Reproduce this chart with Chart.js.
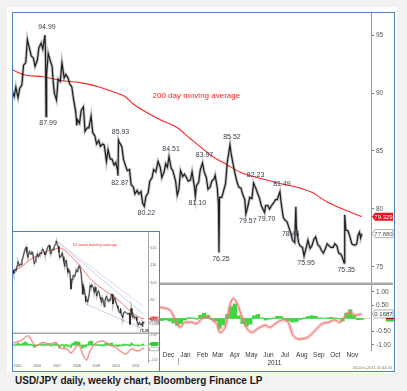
<!DOCTYPE html>
<html>
<head>
<meta charset="utf-8">
<script src="https://cdn.jsdelivr.net/npm/chart.js@4.4.1/dist/chart.umd.min.js"></script>
<style>
  html,body{margin:0;padding:0;}
  body{width:407px;height:391px;background:#f2f2f2;position:relative;overflow:hidden;font-family:"Liberation Sans",Arial,sans-serif;}
  #panel{position:absolute;left:7px;top:7px;width:390px;height:366px;background:#fff;}
  #frame{position:absolute;left:12px;top:12px;width:383px;height:360px;box-sizing:border-box;border:1px solid #4f81bd;}
  #main{position:absolute;left:13px;top:13px;}
  #insetFrame{position:absolute;left:12px;top:231px;width:148px;height:141px;box-sizing:border-box;border:1px solid #4f81bd;background:#fff;}
  #inset{position:absolute;left:13px;top:232px;}
  #caption{position:absolute;left:15px;top:375px;font:bold 10px "Liberation Sans",Arial,sans-serif;color:#1a1a1a;line-height:12px;white-space:nowrap;}
</style>
</head>
<body>
<div id="panel"></div>
<div id="frame"></div>
<canvas id="main" width="381" height="358"></canvas>
<div id="insetFrame"></div>
<canvas id="inset" width="146" height="138"></canvas>
<div id="caption">USD/JPY daily, weekly chart, Bloomberg Finance LP</div>
<script>
// ---------------- DAILY CHART DATA ----------------
const priceDates = [
'2010-03-05','2010-03-09','2010-03-12','2010-03-16','2010-03-19','2010-03-23','2010-03-26','2010-03-30','2010-04-02','2010-04-06',
'2010-04-09','2010-04-13','2010-04-16','2010-04-20','2010-04-23','2010-04-27','2010-04-30','2010-05-04','2010-05-05','2010-05-06',
'2010-05-07','2010-05-10','2010-05-13','2010-05-17','2010-05-19','2010-05-21','2010-05-25','2010-05-28','2010-06-01','2010-06-04',
'2010-06-08','2010-06-11','2010-06-15','2010-06-18','2010-06-22','2010-06-25','2010-06-29','2010-07-01','2010-07-02','2010-07-06',
'2010-07-09','2010-07-13','2010-07-16','2010-07-20','2010-07-23','2010-07-27','2010-07-30','2010-08-03','2010-08-06','2010-08-10',
'2010-08-13','2010-08-17','2010-08-20','2010-08-24','2010-08-27','2010-08-31','2010-09-03','2010-09-07','2010-09-10','2010-09-13',
'2010-09-14','2010-09-15','2010-09-17','2010-09-21','2010-09-24','2010-09-28','2010-10-01','2010-10-05','2010-10-08','2010-10-12',
'2010-10-15','2010-10-19','2010-10-22','2010-10-26','2010-10-29','2010-11-01','2010-11-04','2010-11-08','2010-11-11','2010-11-15',
'2010-11-18','2010-11-22','2010-11-26','2010-11-30','2010-12-03','2010-12-07','2010-12-10','2010-12-13','2010-12-16','2010-12-20',
'2010-12-23','2010-12-28','2010-12-31','2011-01-03','2011-01-06','2011-01-10','2011-01-13','2011-01-17','2011-01-20','2011-01-24',
'2011-01-27','2011-01-31','2011-02-02','2011-02-04','2011-02-08','2011-02-11','2011-02-15','2011-02-18','2011-02-22','2011-02-25',
'2011-03-01','2011-03-04','2011-03-08','2011-03-10','2011-03-14','2011-03-16','2011-03-17','2011-03-18','2011-03-22','2011-03-25',
'2011-03-29','2011-04-01','2011-04-06','2011-04-08','2011-04-12','2011-04-15','2011-04-19','2011-04-22','2011-04-26','2011-04-29',
'2011-05-03','2011-05-05','2011-05-09','2011-05-12','2011-05-16','2011-05-19','2011-05-23','2011-05-26','2011-05-30','2011-06-02',
'2011-06-08','2011-06-10','2011-06-14','2011-06-17','2011-06-21','2011-06-24','2011-06-28','2011-07-01','2011-07-06','2011-07-08',
'2011-07-12','2011-07-14','2011-07-19','2011-07-22','2011-07-26','2011-07-29','2011-08-02','2011-08-04','2011-08-05','2011-08-09',
'2011-08-12','2011-08-16','2011-08-19','2011-08-23','2011-08-26','2011-08-30','2011-09-02','2011-09-06','2011-09-09','2011-09-13',
'2011-09-16','2011-09-20','2011-09-23','2011-09-27','2011-09-30','2011-10-04','2011-10-07','2011-10-11','2011-10-14','2011-10-18',
'2011-10-21','2011-10-25','2011-10-28','2011-10-31','2011-11-01','2011-11-03','2011-11-07','2011-11-10','2011-11-14','2011-11-17',
'2011-11-21','2011-11-23','2011-11-25','2011-11-28','2011-11-30','2011-12-02'];
const priceValues = [
90.2,89.7,90.5,89.6,90.4,90.7,92.4,92.6,94.6,93.8,
93.2,93.0,92.3,92.8,93.9,94.3,93.8,94.99,93.5,87.99,
91.6,93.4,92.9,92.3,91.0,90.0,89.4,91.2,91.0,92.6,
91.3,91.6,91.3,90.8,90.5,89.5,88.4,87.2,87.7,87.4,
88.5,88.8,86.7,87.0,87.0,88.0,86.6,86.3,85.6,85.9,
85.4,85.6,85.5,84.1,85.1,84.3,84.3,83.8,84.0,83.4,
82.87,85.93,85.7,85.4,84.3,83.7,83.3,83.4,82.1,81.9,
81.3,81.6,81.3,81.5,80.5,80.22,81.1,81.4,82.4,82.7,
83.4,83.2,84.1,83.6,82.7,83.2,83.9,83.6,84.51,83.5,
83.3,82.4,81.2,81.7,83.3,82.8,83.0,82.7,82.4,82.5,
83.2,82.0,81.10,82.0,82.3,83.4,83.97,83.2,82.7,81.7,
81.9,82.4,82.6,82.9,81.8,80.4,76.25,81.0,81.0,81.5,
82.2,84.0,85.52,84.8,83.8,83.1,82.3,81.9,81.8,81.3,
80.8,79.57,80.3,81.0,80.9,82.23,81.8,81.4,80.9,80.3,
79.70,80.3,80.3,80.0,80.3,80.5,80.8,80.8,81.49,80.6,
79.3,79.1,78.9,78.46,77.9,77.3,77.1,80.2,78.4,77.1,
76.8,76.7,75.95,76.7,77.3,76.6,76.8,77.4,77.6,76.9,
76.8,76.4,76.2,76.6,77.0,76.8,76.7,76.7,77.0,76.8,
76.2,76.1,75.8,75.35,79.5,78.2,78.1,77.7,77.0,76.9,
76.9,77.0,77.7,78.0,77.5,77.88];

const maDates = ['2010-03-05','2010-03-29','2010-04-30','2010-05-31','2010-07-12','2010-08-12','2010-09-05','2010-09-27','2010-10-11','2010-11-06','2010-11-30','2010-12-31','2011-01-23','2011-02-10','2011-03-06','2011-04-01','2011-04-24','2011-05-18','2011-06-12','2011-07-06','2011-08-12','2011-09-04','2011-09-30','2011-10-23','2011-12-02'];
const maValues = [92.0,91.55,91.4,91.1,90.85,90.5,90.1,89.7,89.1,88.3,87.7,87.0,86.1,85.4,84.5,83.8,83.2,82.8,82.5,82.2,81.8,81.4,80.6,80.1,79.329];

const oscDates = ['2010-11-15','2010-11-30','2010-12-18','2010-12-30','2011-01-05','2011-01-14','2011-01-27','2011-02-05','2011-02-14','2011-02-25','2011-03-06','2011-03-13','2011-03-19','2011-03-28','2011-04-06','2011-04-12','2011-04-19','2011-04-28','2011-05-07','2011-05-16','2011-05-27','2011-06-09','2011-06-18','2011-07-01','2011-07-12','2011-07-21','2011-07-30','2011-08-08','2011-08-17','2011-08-26','2011-09-08','2011-09-21','2011-10-02','2011-10-14','2011-10-23','2011-11-05','2011-11-11','2011-11-20','2011-12-02'];
const oscValues = [0.45,0.42,0.31,-0.19,-0.34,-0.15,-0.15,-0.2,0.0,0.05,-0.08,-0.2,-0.54,-0.34,0.5,0.76,0.57,0.05,-0.38,-0.53,-0.38,-0.26,-0.34,-0.15,-0.05,-0.15,-0.65,-0.78,-0.77,-0.72,-0.46,-0.2,-0.15,-0.05,-0.15,0.18,0.24,0.12,0.1687];

const histDates = ['2010-11-19','2010-11-26','2010-12-03','2010-12-10','2010-12-17','2010-12-24','2010-12-31','2011-01-07','2011-01-14','2011-01-21','2011-01-28','2011-02-04','2011-02-11','2011-02-18','2011-02-25','2011-03-04','2011-03-11','2011-03-18','2011-03-25','2011-04-01','2011-04-08','2011-04-15','2011-04-22','2011-04-29','2011-05-06','2011-05-13','2011-05-20','2011-05-27','2011-06-03','2011-06-10','2011-06-17','2011-06-24','2011-07-01','2011-07-08','2011-07-15','2011-07-22','2011-07-29','2011-08-05','2011-08-12','2011-08-19','2011-08-26','2011-09-02','2011-09-09','2011-09-16','2011-09-23','2011-09-30','2011-10-07','2011-10-14','2011-10-21','2011-10-28','2011-11-04','2011-11-11','2011-11-18','2011-11-25','2011-12-02'];
const histValues = [-0.02,-0.05,-0.08,-0.06,-0.1,-0.18,-0.27,-0.2,-0.06,0.03,0.02,-0.03,0.12,0.2,0.12,-0.04,-0.1,-0.38,-0.25,0.15,0.45,0.55,0.1,-0.2,-0.3,-0.22,0.1,0.15,0.02,-0.06,-0.03,0.02,0.08,0.07,-0.05,-0.1,-0.14,-0.12,-0.04,0.02,0.07,0.1,0.08,0.02,0.01,0.02,0.04,0.02,-0.02,-0.1,0.2,0.33,0.12,-0.05,-0.04];

const annoDates = ['2010-05-04','2010-05-06','2010-09-15','2010-09-14','2010-11-01','2010-12-16','2011-02-02','2011-02-15','2011-03-17','2011-04-06','2011-05-05','2011-05-19','2011-06-08','2011-07-06','2011-07-22','2011-08-19','2011-10-31'];
const annoSide  = ['above','below','above','below','below','above','below','above','below','above','below','above','below','above','below','below','below'];

const monthTickDates  = ['2010-12-15','2011-01-15','2011-02-15','2011-03-15','2011-04-15','2011-05-15','2011-06-15','2011-07-15','2011-08-15','2011-09-15','2011-10-15','2011-11-15'];
const monthTickLabels = ['Dec','Jan','Feb','Mar','Apr','May','Jun','Jul','Aug','Sep','Oct','Nov'];
const yearLabel = '2011';
const yearStart = '2011-01-01';
const priceTicks = [75,80,85,90,95];
const oscTicks = [-1,-0.5,0.5,1];
const maLabel = '200 day moving average';
const maLabelAnchor = ['2010-11-16', 89.75];
const stampText = '03-Dec-2011 11:44:20';

// ---------------- WEEKLY INSET DATA ----------------
const wkDates = [
'2005-04-08','2005-04-22','2005-05-06','2005-05-20','2005-06-08','2005-06-22','2005-07-08','2005-07-22','2005-08-08','2005-08-22','2005-09-08','2005-09-22','2005-10-07','2005-10-21','2005-11-08','2005-11-22','2005-12-08','2005-12-22',
'2006-01-09','2006-01-23','2006-02-08','2006-02-22','2006-03-08','2006-03-22','2006-04-07','2006-04-21','2006-05-08','2006-05-22','2006-06-08','2006-06-22','2006-07-07','2006-07-21','2006-08-08','2006-08-22','2006-09-08','2006-09-22','2006-10-09','2006-10-23','2006-11-08','2006-11-22','2006-12-08','2006-12-22',
'2007-01-08','2007-01-22','2007-02-08','2007-02-22','2007-03-08','2007-03-22','2007-04-09','2007-04-23','2007-05-08','2007-05-22','2007-06-08','2007-06-22','2007-07-09','2007-07-23','2007-08-08','2007-08-22','2007-09-07','2007-09-21','2007-10-08','2007-10-22','2007-11-08','2007-11-22','2007-12-07','2007-12-21',
'2008-01-08','2008-01-22','2008-02-08','2008-02-22','2008-03-07','2008-03-17','2008-04-08','2008-04-22','2008-05-08','2008-05-22','2008-06-09','2008-06-23','2008-07-08','2008-07-22','2008-08-08','2008-08-22','2008-09-08','2008-09-22','2008-10-08','2008-10-24','2008-11-07','2008-11-21','2008-12-08','2008-12-17',
'2009-01-08','2009-01-21','2009-02-09','2009-02-23','2009-03-09','2009-03-23','2009-04-08','2009-04-22','2009-05-08','2009-05-22','2009-06-08','2009-06-22','2009-07-08','2009-07-22','2009-08-07','2009-08-21','2009-09-08','2009-09-22','2009-10-08','2009-10-22','2009-11-09','2009-11-27','2009-12-08','2009-12-22',
'2010-01-08','2010-01-22','2010-02-08','2010-02-22','2010-03-08','2010-03-22','2010-04-08','2010-04-22','2010-05-06','2010-05-21','2010-06-08','2010-06-22','2010-07-08','2010-07-22','2010-08-06','2010-08-24','2010-09-14','2010-09-22','2010-10-08','2010-10-22','2010-11-01','2010-11-22','2010-12-08','2010-12-22',
'2011-01-07','2011-01-21','2011-02-08','2011-02-22','2011-03-08','2011-03-17','2011-04-06','2011-04-22','2011-05-06','2011-05-20','2011-06-08','2011-06-22','2011-07-08','2011-07-22','2011-08-08','2011-08-19','2011-09-08','2011-09-22','2011-10-07','2011-10-21','2011-10-31','2011-11-08','2011-11-22','2011-12-02'];
const wkValues = [
107.5,105.5,105.8,107.8,107.2,109.8,112.2,111.0,109.8,110.8,110.5,112.8,114.2,116.0,118.2,119.5,120.5,117.5,
114.5,117.0,118.0,116.5,116.5,117.8,117.5,114.5,111.0,112.2,114.5,115.5,116.8,114.8,115.5,117.2,116.8,118.0,119.5,118.8,117.5,116.0,116.5,118.5,
120.0,121.2,121.5,119.0,116.5,117.8,119.2,119.0,120.5,121.5,122.5,124.0,121.8,121.0,117.5,114.5,115.5,115.2,117.2,115.0,112.0,109.5,112.5,113.0,
108.5,106.0,107.5,107.0,102.5,96.5,102.0,104.0,104.5,103.5,105.0,107.5,106.5,107.5,109.5,109.8,107.8,105.5,99.5,93.5,98.0,96.0,92.5,89.5,
90.5,89.0,91.8,94.5,98.5,97.5,99.0,98.0,97.5,94.5,97.5,95.5,92.5,94.5,95.5,94.5,92.0,90.5,88.8,91.5,89.5,86.5,89.5,91.5,
92.5,90.5,89.5,90.5,90.0,90.5,93.5,93.5,88.0,90.0,91.5,90.0,88.0,87.0,85.5,84.0,82.9,85.5,82.1,81.3,80.3,83.2,83.5,83.3,
83.0,82.5,82.3,82.7,82.6,76.3,85.5,81.9,80.5,81.7,79.8,80.3,80.6,78.5,77.1,76.0,77.5,76.3,76.7,76.2,75.35,77.8,77.0,77.88];

const wkMaDates = ['2005-04-08','2005-09-01','2006-02-06','2006-10-20','2007-04-01','2007-08-25','2008-02-24','2008-08-25','2009-02-24','2009-08-25','2010-02-24','2010-08-25','2011-02-24','2011-10-01','2011-12-02'];
const wkMaValues = [107.0,109.0,113.0,117.3,119.0,120.0,116.0,110.0,103.0,98.0,94.0,90.0,84.6,80.0,79.6];

const trendUpperADates = ['2007-06-22','2011-11-25'];
const trendUpperAValues = [124.0,82.0];
const trendUpperBDates = ['2007-06-22','2011-11-25'];
const trendUpperBValues = [124.0,86.5];
const trendLowerDates = ['2008-12-17','2011-11-01'];
const trendLowerValues = [88.0,74.0];

const wkOscDates = ['2005-04-08','2005-09-01','2006-01-15','2006-06-01','2006-10-01','2007-02-15','2007-06-15','2007-09-01','2008-01-01','2008-03-20','2008-08-01','2008-10-20','2009-01-01','2009-03-01','2009-06-01','2009-11-01','2010-03-01','2010-06-15','2010-09-15','2011-01-01','2011-04-15','2011-08-01','2011-12-02'];
const wkOscValues = [0.2,0.45,0.9,-0.1,0.25,0.1,0.25,-0.3,-0.4,-0.8,0.0,-0.9,-1.5,-0.7,0.1,0.4,0.0,-0.2,-0.6,-0.9,-0.4,-0.6,-0.3];

const wkHistMonths = [
'2005-04','2005-05','2005-06','2005-07','2005-08','2005-09','2005-10','2005-11','2005-12',
'2006-01','2006-02','2006-03','2006-04','2006-05','2006-06','2006-07','2006-08','2006-09','2006-10','2006-11','2006-12',
'2007-01','2007-02','2007-03','2007-04','2007-05','2007-06','2007-07','2007-08','2007-09','2007-10','2007-11','2007-12',
'2008-01','2008-02','2008-03','2008-04','2008-05','2008-06','2008-07','2008-08','2008-09','2008-10','2008-11','2008-12',
'2009-01','2009-02','2009-03','2009-04','2009-05','2009-06','2009-07','2009-08','2009-09','2009-10','2009-11','2009-12',
'2010-01','2010-02','2010-03','2010-04','2010-05','2010-06','2010-07','2010-08','2010-09','2010-10','2010-11','2010-12',
'2011-01','2011-02','2011-03','2011-04','2011-05','2011-06','2011-07','2011-08','2011-09','2011-10','2011-11'];
const wkHistValues = [
0.05,-0.05,0.1,0.2,0.05,0.1,0.2,0.3,0.25,
0.05,0.1,0.05,-0.1,-0.25,-0.05,0.05,0.05,0.1,0.12,-0.05,0.1,
0.15,0.1,-0.1,0.05,0.1,0.15,-0.05,-0.3,-0.1,0.05,-0.25,0.05,
-0.15,0.0,-0.25,0.15,0.25,0.35,0.3,0.3,-0.1,-0.35,-0.2,-0.2,
0.05,0.3,0.4,0.35,0.0,0.1,-0.05,0.05,-0.1,0.05,-0.1,0.15,
0.2,0.1,0.15,0.2,0.0,-0.05,-0.1,-0.15,-0.05,-0.1,0.1,0.05,
0.05,0.05,-0.1,0.2,0.05,0.0,-0.05,-0.1,0.0,-0.05,0.1];

const wkYearTicks = ['2005','2006','2007','2008','2009','2010','2011'];
const wkPriceTicks = [80,90,100,110,120];
const wkOscTicks = [1,0.5,-0.5,-1,-1.5];
const wkMaLabel = '52 week moving average';
const wkMaLabelAnchor = [2008.3, 121.7];
const wkLowDate = '2011-10-31';

// ---------------- HELPERS ----------------
const FONT = '"Liberation Sans", Arial, sans-serif';
Chart.defaults.font.family = FONT;
const ORIGIN = Date.UTC(2010,2,5);
function ymd(s){const p=s.split('-').map(Number);return [p[0],p[1],p[2]||15];}
function day(s){const [y,m,d]=ymd(s);return (Date.UTC(y,m-1,d)-ORIGIN)/864e5;}
function yr(s){const [y,m,d]=ymd(s);return y+(Date.UTC(y,m-1,d)-Date.UTC(y,0,1))/(365.25*864e5);}
function pts(dates, vals, fx){return dates.map((d,i)=>({x:fx(d),y:vals[i]}));}
function noPad(s){s.paddingTop=0;s.paddingBottom=0;s.paddingLeft=0;s.paddingRight=0;}
function flag(ctx,x0,x1,yc,h,fill,stroke,text,color,font){
  ctx.beginPath();
  ctx.moveTo(x0,yc);ctx.lineTo(x0+3,yc-h/2);ctx.lineTo(x1,yc-h/2);ctx.lineTo(x1,yc+h/2);ctx.lineTo(x0+3,yc+h/2);ctx.closePath();
  ctx.fillStyle=fill;ctx.fill();
  if(stroke){ctx.strokeStyle=stroke;ctx.lineWidth=0.8;ctx.stroke();}
  if(text){ctx.fillStyle=color;ctx.font=font;ctx.textAlign='center';ctx.textBaseline='middle';ctx.fillText(text,(x0+2+x1)/2,yc+0.5);}
}

// ---------------- MAIN CHART ----------------
const xMin = 1.82, xMax = 653.9;
const mainDeco = {
  id:'mainDeco',
  beforeDatasetsDraw(chart){
    const {ctx,chartArea:a,scales:{yo}}=chart;
    ctx.save();
    const y0=Math.round(yo.getPixelForValue(0))+0.5;
    ctx.strokeStyle='#b6eeb6';ctx.lineWidth=1;
    ctx.beginPath();ctx.moveTo(a.left,y0);ctx.lineTo(a.right,y0);ctx.stroke();
    ctx.restore();
  },
  afterDatasetsDraw(chart){
    const {ctx,chartArea:a,scales:{x,y,yo}}=chart;
    ctx.save();
    ctx.fillStyle='#a9a9a9';
    ctx.fillRect(0,yo.top-1.5,chart.width-1,2.5);
    ctx.font='7px '+FONT;ctx.fillStyle='#3b3b4b';ctx.textAlign='center';ctx.textBaseline='middle';
    annoDates.forEach((d,i)=>{
      const v=priceValues[priceDates.indexOf(d)];
      const px=x.getPixelForValue(day(d))+2;
      const py=y.getPixelForValue(v)+(annoSide[i]==='above'?-8:7);
      ctx.fillText(v.toFixed(2),px,py);
    });
    ctx.font='8px '+FONT;ctx.fillStyle='#ff2020';ctx.textAlign='left';
    ctx.fillText(maLabel,x.getPixelForValue(day(maLabelAnchor[0])),y.getPixelForValue(maLabelAnchor[1]));
    const f='6px '+FONT;
    const maLast=maValues[maValues.length-1], pLast=priceValues[priceValues.length-1];
    flag(ctx,a.right+1,a.right+22,y.getPixelForValue(maLast),8,'#e3141b',null,maLast.toFixed(3),'#fff',f);
    flag(ctx,a.right+1,a.right+22,y.getPixelForValue(pLast),8,'#fff','#9a9a9a',pLast.toFixed(3),'#555',f);
    const oLast=oscValues[oscValues.length-1], hLast=histValues[histValues.length-1];
    flag(ctx,a.right+1,a.right+22,yo.getPixelForValue(oLast),8,'#fff','#9a9a9a',oLast.toFixed(4),'#333',f);
    ctx.fillStyle='#b00000';ctx.fillRect(a.right+15,yo.getPixelForValue(oLast)+4,8,2);
    ctx.fillStyle='#2fcf2f';ctx.fillRect(a.right+15,yo.getPixelForValue(hLast)-0.5,8,2.5);
    const xs=Math.round(x.getPixelForValue(day(yearStart)))+0.5;
    ctx.strokeStyle='#aaa';ctx.lineWidth=1;ctx.beginPath();ctx.moveTo(xs,a.bottom+8);ctx.lineTo(xs,a.bottom+15);ctx.stroke();
    ctx.font='4px '+FONT;ctx.fillStyle='#777';ctx.textAlign='right';ctx.textBaseline='middle';
    ctx.fillText(stampText,chart.width-2,a.bottom+18);
    ctx.restore();
  }
};

new Chart(document.getElementById('main'),{
  type:'line',
  data:{datasets:[
    {type:'bar',data:pts(histDates,histValues,day),xAxisID:'x',yAxisID:'yo',backgroundColor:'#3fd53f',barThickness:3.6,order:6},
    {data:pts(oscDates,oscValues,day),xAxisID:'x',yAxisID:'yo',borderColor:'rgba(245,150,150,0.45)',borderWidth:3.5,pointRadius:0,tension:0.3,order:5},
    {data:pts(oscDates,oscValues,day),xAxisID:'x',yAxisID:'yo',borderColor:'#f26666',borderWidth:1,pointRadius:0,tension:0.3,order:4},
    {data:pts(maDates,maValues,day),xAxisID:'x',yAxisID:'y',borderColor:'#ff2424',borderWidth:1.1,pointRadius:0,cubicInterpolationMode:'monotone',order:3},
    {data:pts(priceDates,priceValues,day),xAxisID:'x',yAxisID:'y',borderColor:'rgba(80,80,80,0.35)',borderWidth:3,pointRadius:0,tension:0,order:2},
    {data:pts(priceDates,priceValues,day),xAxisID:'x',yAxisID:'y',borderColor:'#1e1e1e',borderWidth:1.2,pointRadius:0,tension:0,order:1}
  ]},
  options:{
    responsive:false,animation:false,devicePixelRatio:1,
    layout:{padding:0},
    plugins:{legend:{display:false},tooltip:{enabled:false}},
    scales:{
      x:{type:'linear',position:'bottom',min:xMin,max:xMax,offset:false,
        grid:{display:false,drawTicks:false},border:{display:false},
        afterBuildTicks:s=>{s.ticks=monthTickDates.map(d=>({value:day(d)}));},
        ticks:{autoSkip:false,maxRotation:0,padding:1,color:'#333',font:{size:6.5},callback:(v,i)=>monthTickLabels[i]},
        afterFit:s=>{s.height=9;noPad(s);}},
      xYear:{type:'linear',position:'bottom',min:xMin,max:xMax,offset:false,
        grid:{display:false,drawTicks:false},border:{display:false},
        afterBuildTicks:s=>{s.ticks=[{value:(day(yearStart)+xMax)/2}];},
        ticks:{autoSkip:false,maxRotation:0,padding:0,color:'#333',font:{size:6.5},callback:()=>yearLabel},
        afterFit:s=>{s.height=12;noPad(s);}},
      y:{type:'linear',position:'right',stack:'v',stackWeight:271,min:73.534,max:96.897,
        afterBuildTicks:s=>{s.ticks=priceTicks.map(v=>({value:v}));},
        grid:{drawOnChartArea:false,drawTicks:true,tickLength:3,color:'#777'},
        border:{color:'#9a9a9a'},
        ticks:{padding:2,color:'#555',font:{size:6.5}},
        afterFit:s=>{s.width=23;noPad(s);}},
      yo:{type:'linear',position:'right',stack:'v',stackWeight:66,min:-1.197,max:1.303,
        afterBuildTicks:s=>{s.ticks=oscTicks.map(v=>({value:v}));},
        grid:{drawOnChartArea:false,drawTicks:true,tickLength:3,color:'#777'},
        border:{color:'#9a9a9a'},
        ticks:{padding:2,color:'#555',font:{size:6.5},callback:v=>v.toFixed(2)},
        afterFit:s=>{s.width=23;noPad(s);}}
    }
  },
  plugins:[mainDeco]
});

// ---------------- INSET CHART ----------------
const insetDeco = {
  id:'insetDeco',
  beforeDatasetsDraw(chart){
    const {ctx,chartArea:a,scales:{yo}}=chart;
    ctx.save();
    const y0=Math.round(yo.getPixelForValue(0))+0.5;
    ctx.strokeStyle='#b6eeb6';ctx.lineWidth=0.8;
    ctx.beginPath();ctx.moveTo(a.left,y0);ctx.lineTo(a.right,y0);ctx.stroke();
    ctx.restore();
  },
  afterDatasetsDraw(chart){
    const {ctx,chartArea:a,scales:{x,y,yo}}=chart;
    ctx.save();
    ctx.fillStyle='#a9a9a9';
    ctx.fillRect(0,yo.top-0.5,chart.width,1.5);
    ctx.font='4px '+FONT;ctx.fillStyle='#ff3030';ctx.textAlign='left';ctx.textBaseline='middle';
    ctx.fillText(wkMaLabel,x.getPixelForValue(wkMaLabelAnchor[0]),y.getPixelForValue(wkMaLabelAnchor[1]));
    const lv=wkValues[wkDates.indexOf(wkLowDate)];
    ctx.font='bold 3.6px '+FONT;ctx.fillStyle='#333';ctx.textAlign='center';
    ctx.fillText(lv.toFixed(2),x.getPixelForValue(yr(wkLowDate))+2,y.getPixelForValue(lv)+5);
    const f='3px '+FONT;
    const mL=wkMaValues[wkMaValues.length-1], pL=wkValues[wkValues.length-1];
    flag(ctx,a.right+0.5,a.right+10.5,y.getPixelForValue(mL),4,'#e3141b',null,mL.toFixed(3),'#fff',f);
    flag(ctx,a.right+0.5,a.right+10.5,y.getPixelForValue(pL)+1,4,'#fff','#aaa',pL.toFixed(3),'#555',f);
    const hL=wkHistValues[wkHistValues.length-1], oL=wkOscValues[wkOscValues.length-1];
    flag(ctx,a.right+0.5,a.right+10.5,yo.getPixelForValue(hL),4,'#2fcf2f',null,'','#000',f);
    flag(ctx,a.right+0.5,a.right+10.5,yo.getPixelForValue(oL)+1,3.5,'#fff','#aaa','','#000',f);
    ctx.restore();
  }
};

new Chart(document.getElementById('inset'),{
  type:'line',
  data:{datasets:[
    {type:'bar',data:pts(wkHistMonths,wkHistValues,yr),xAxisID:'x',yAxisID:'yo',backgroundColor:'#3fd53f',barThickness:1.7,order:10},
    {data:pts(wkOscDates,wkOscValues,yr),xAxisID:'x',yAxisID:'yo',borderColor:'rgba(245,150,150,0.45)',borderWidth:2,pointRadius:0,tension:0.35,order:9},
    {data:pts(wkOscDates,wkOscValues,yr),xAxisID:'x',yAxisID:'yo',borderColor:'#f26666',borderWidth:0.7,pointRadius:0,tension:0.35,order:8},
    {data:pts(trendUpperADates,trendUpperAValues,yr),xAxisID:'x',yAxisID:'y',borderColor:'#b3bce6',borderWidth:0.7,pointRadius:0,order:7},
    {data:pts(trendUpperBDates,trendUpperBValues,yr),xAxisID:'x',yAxisID:'y',borderColor:'#c3cbee',borderWidth:0.7,pointRadius:0,order:6},
    {data:pts(trendLowerDates,trendLowerValues,yr),xAxisID:'x',yAxisID:'y',borderColor:'#b3bce6',borderWidth:0.7,pointRadius:0,order:5},
    {data:pts(wkMaDates,wkMaValues,yr),xAxisID:'x',yAxisID:'y',borderColor:'#ff4a4a',borderWidth:0.8,pointRadius:0,cubicInterpolationMode:'monotone',order:4},
    {data:pts(wkDates,wkValues,yr),xAxisID:'x',yAxisID:'y',borderColor:'rgba(80,80,80,0.35)',borderWidth:2,pointRadius:0,tension:0,order:3},
    {data:pts(wkDates,wkValues,yr),xAxisID:'x',yAxisID:'y',borderColor:'#222',borderWidth:0.8,pointRadius:0,tension:0,order:2}
  ]},
  options:{
    responsive:false,animation:false,devicePixelRatio:1,
    layout:{padding:0},
    plugins:{legend:{display:false},tooltip:{enabled:false}},
    scales:{
      x:{type:'linear',position:'bottom',min:2005.267,max:2012.119,offset:false,
        grid:{display:false,drawTicks:false},border:{display:false},
        afterBuildTicks:s=>{s.ticks=wkYearTicks.map(t=>({value:Number(t)+0.5}));},
        ticks:{autoSkip:false,maxRotation:0,padding:1.5,color:'#666',font:{size:3.5},callback:(v,i)=>wkYearTicks[i]},
        afterFit:s=>{s.height=8;noPad(s);}},
      y:{type:'linear',position:'right',stack:'v',stackWeight:101,min:71.43,max:129.14,
        afterBuildTicks:s=>{s.ticks=wkPriceTicks.map(v=>({value:v}));},
        grid:{drawOnChartArea:false,drawTicks:true,tickLength:1.5,color:'#888'},
        border:{color:'#aaa'},
        ticks:{padding:1,color:'#666',font:{size:3.5}},
        afterFit:s=>{s.width=11;noPad(s);}},
      yo:{type:'linear',position:'right',stack:'v',stackWeight:29,min:-1.7,max:1.2,
        afterBuildTicks:s=>{s.ticks=wkOscTicks.map(v=>({value:v}));},
        grid:{drawOnChartArea:false,drawTicks:true,tickLength:1.5,color:'#888'},
        border:{color:'#aaa'},
        ticks:{padding:1,color:'#666',font:{size:3},callback:v=>v.toFixed(2)},
        afterFit:s=>{s.width=11;noPad(s);}}
    }
  },
  plugins:[insetDeco]
});
</script>
</body>
</html>
